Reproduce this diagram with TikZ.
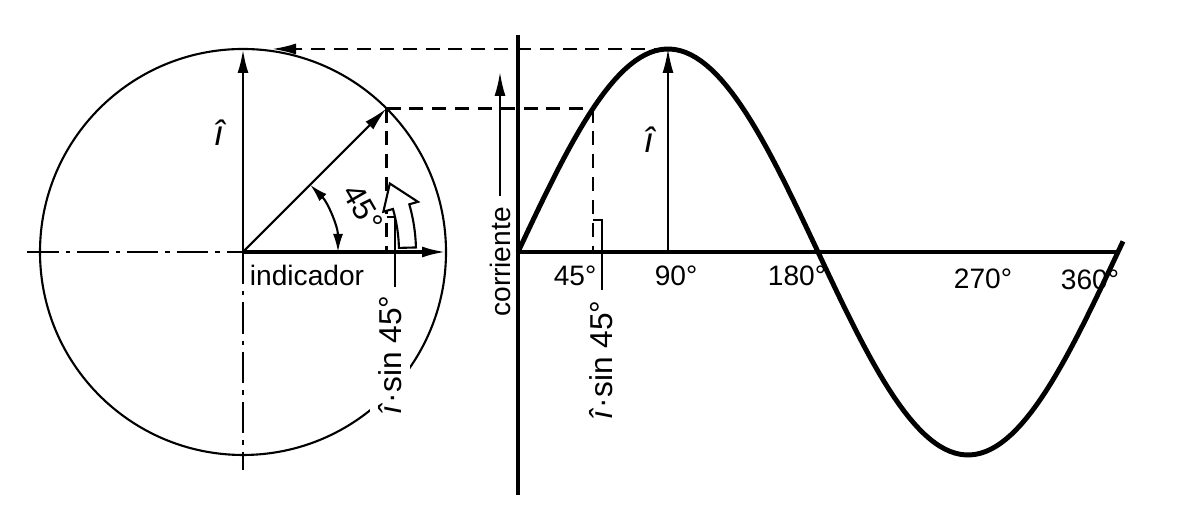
\documentclass[tikz,border=0pt]{standalone}
\usepackage{fontspec}
\setmainfont{Liberation Sans}
\usetikzlibrary{arrows.meta}

\begin{document}
\begin{tikzpicture}[>={Latex[length=2.4mm,width=1.1mm]},
    dashln/.style={dash pattern=on 4pt off 2.5pt, line width=0.6pt},
    centerln/.style={dash pattern=on 9pt off 2pt on 1.2pt off 2pt, line width=0.7pt},
    lbl/.style={font=\fontsize{8}{9.6}\selectfont, inner sep=1pt},
    biglbl/.style={font=\fontsize{9}{10.8}\selectfont, inner sep=1pt}]
      \useasboundingbox (0,0) rectangle (11.87,5.12);
      % circle with indicators
      \coordinate (O) at (2.43,2.60);
      \coordinate (T) at (2.43,4.63);
      \coordinate (P) at (3.865,4.035);
      \coordinate (Px) at (3.865,2.60);
      \coordinate (E) at (4.46,2.60);
      \coordinate (L) at (0.27,2.60);
      \coordinate (B) at (2.43,0.42);
      \draw[line width=0.6pt] (O) circle (2.03);
      \draw[centerln] (L) -- (O);
      \draw[centerln] (O) -- (B);
      \draw[->, line width=0.9pt] (O) -- (E);
      \draw[->, line width=0.8pt] (O) -- (T);
      \draw[->, line width=0.6pt] (O) -- (P);
      \draw[<->, >={Latex[length=1.8mm,width=1mm]}, line width=0.6pt, shift={(O)}] (0:0.95) arc (0:45:0.95);
      \draw[dashln] (P) -- (Px);
      \draw[line width=0.6pt, fill=white, shift={(O)}] (1.5:1.56) arc (1.5:16:1.56) -- (16:1.46) -- (25:1.62) -- (16:1.82) -- (16:1.73) arc (16:1.5:1.73) -- cycle;
      \node[biglbl] (ihatL) at (2.20,3.79) {\fontsize{10}{12}\selectfont\textit{î}};
      \node[biglbl, rotate=-60] (ang) at (3.63,3.04) {45°};
      \node[lbl] (ind) at (3.07,2.37) {indicador};
      \node[biglbl, rotate=90, fill=white, inner sep=2.5pt] (isinL) at (3.90,1.57) {\textit{î}·sin 45°};
      \draw[line width=0.5pt] (3.865,2.95) -- (3.95,2.95) -- (3.95,2.25);
      % sine curve
      \coordinate (A0) at (5.18,2.60);
      \coordinate (A45) at (5.93,2.60);
      \coordinate (A90) at (6.68,2.60);
      \coordinate (A360) at (11.18,2.60);
      \coordinate (Ytop) at (5.18,4.77);
      \coordinate (Ybot) at (5.18,0.17);
      \coordinate (S45) at (5.93,4.035);
      \coordinate (S90) at (6.68,4.63);
      \coordinate (T2) at (2.72,4.63);
      \coordinate (ctip) at (5.00,4.40);
      \draw[line width=1pt] (Ytop) -- (Ybot);
      \draw[line width=1.1pt] (A0) -- (A360);
      \draw[line width=1.4pt] plot[domain=0:363, samples=120, variable=\t] ({5.18+\t/60},{2.6+2.03*sin(\t)});
      \draw[dashln, ->] (S90) -- (T2);
      \draw[dashln] (P) -- (S45);
      \draw[dashln] (S45) -- (A45);
      \draw[->, line width=0.5pt] (A90) -- (S90);
      \node[biglbl] (ihatR) at (6.50,3.72) {\fontsize{10}{12}\selectfont\textit{î}};
      \node[lbl, rotate=90] (corr) at (5.00,2.50) {corriente};
      \draw[->, line width=0.6pt, shorten <=2pt] (corr.east) -- (ctip);
      \node[biglbl, rotate=90] (isinR) at (6.01,1.52) {\textit{î}·sin 45°};
      \draw[line width=0.5pt] (5.93,2.92) -- (6.02,2.92) -- (6.02,2.22);
      \node[lbl] (d45) at (5.75,2.36) {45°};
      \node[lbl] (d90) at (6.76,2.36) {90°};
      \node[lbl] (d180) at (7.97,2.36) {180°};
      \node[lbl] (d270) at (9.83,2.33) {270°};
      \node[lbl] (d360) at (10.90,2.32) {360°};
    \end{tikzpicture}
\end{document}
